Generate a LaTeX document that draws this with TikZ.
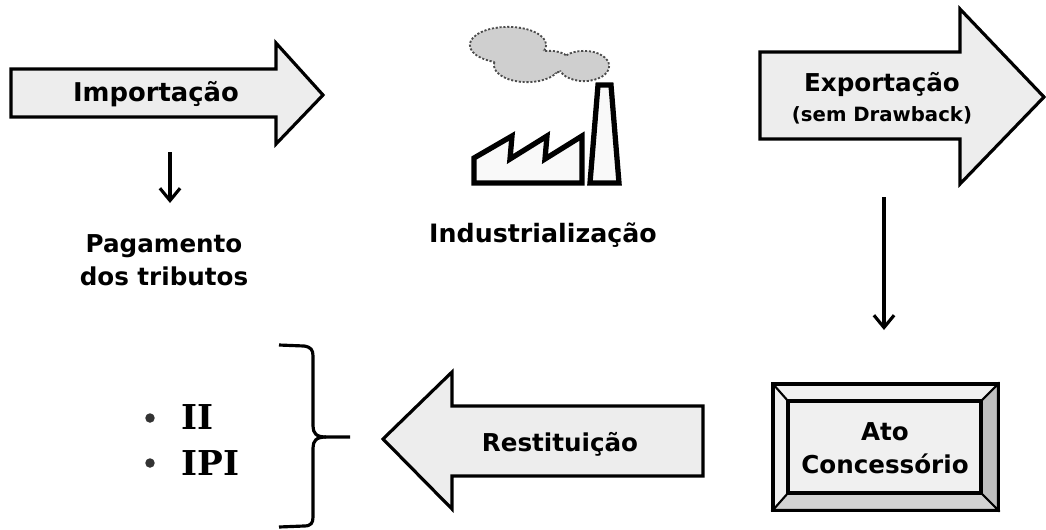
\documentclass[tikz,border=0pt]{standalone}
\usepackage{fontspec}
\setmainfont{DejaVu Sans}
\newfontfamily\slabfont{DejaVu Serif}
\usetikzlibrary{arrows.meta,positioning}

\tikzset{
  bigarrow/.style={fill=gray!14,draw=black,line width=1.8pt,miter limit=6},
  thinarrow/.style={-{Straight Barb[length=7pt,width=11.5pt]},line width=1.8pt},
  biglabel/.style={font=\fontsize{14}{19}\selectfont\bfseries,align=center,inner sep=0pt},
  smalllabel/.style={font=\fontsize{11.2}{14}\selectfont\bfseries,align=center,inner sep=0pt},
  slablabel/.style={font=\fontsize{19.5}{25}\slabfont\bfseries,inner sep=0pt},
  bulletdot/.style={circle,fill=black!80,inner sep=0pt,minimum size=5.4pt},
  factoryline/.style={draw=black,line width=3pt,fill=gray!5,miter limit=6},
  cloudpart/.style={fill=gray!38},
}

\begin{document}
\begin{tikzpicture}[x=0.02cm,y=-0.02cm]
  \useasboundingbox (0,0) rectangle (1046,529);

  %draw import arrow
  \filldraw[bigarrow] (11,69) -- (276,69) -- (276,43) -- (323,95) -- (276,144) -- (276,117) -- (11,117) -- cycle;
  \node[biglabel,font=\fontsize{14.7}{19}\selectfont\bfseries] (importacao) at (156,94) {Importação};

  \coordinate (pagstart) at (170,152);
  \coordinate (pagend) at (170,203);
  \draw[thinarrow] (pagstart) -- (pagend);
  \node[biglabel] (pagamento) at (164,260) {Pagamento\\dos tributos};

  %draw cloud, outlines first and then the fill over them
  \filldraw[cloudpart,draw=black!70,line width=1.2pt,densely dotted] (508,45) ellipse (38 and 18);
  \filldraw[cloudpart,draw=black!70,line width=1.2pt,densely dotted] (527,65) ellipse (33 and 17);
  \filldraw[cloudpart,draw=black!70,line width=1.2pt,densely dotted] (550,62) ellipse (20 and 11);
  \filldraw[cloudpart,draw=black!70,line width=1.2pt,densely dotted] (584,66) ellipse (25 and 15);
  \fill[cloudpart] (508,45) ellipse (37 and 17);
  \fill[cloudpart] (527,65) ellipse (32 and 16);
  \fill[cloudpart] (550,62) ellipse (19 and 10);
  \fill[cloudpart] (584,66) ellipse (24 and 14);

  %draw factory and chimney
  \filldraw[factoryline] (474,158) -- (512,136) -- (510,159) -- (547,136) -- (545,159) -- (582,136) -- (582,183) -- (474,183) -- cycle;
  \filldraw[factoryline] (598,85) -- (611,85) -- (619,183) -- (590,183) -- cycle;
  \node[biglabel,font=\fontsize{14.4}{19}\selectfont\bfseries] (industria) at (543,235) {Industrialização};

  %draw export arrow
  \filldraw[bigarrow] (760,52) -- (960,52) -- (960,9) -- (1044,97) -- (960,184) -- (960,139) -- (760,139) -- cycle;
  \node[biglabel] (exportacao) at (882,84) {Exportação};
  \node[smalllabel] (drawback) at (882,115) {(sem Drawback)};

  \coordinate (expstart) at (884,197);
  \coordinate (expend) at (884,330);
  \draw[thinarrow] (expstart) -- (expend);

  %draw beveled box
  \filldraw[fill=gray!12,draw=black,line width=1.8pt] (773,384) rectangle (998,510);
  \filldraw[fill=gray!50,draw=black,line width=1.2pt] (998,384) -- (981,401) -- (981,493) -- (998,510) -- cycle;
  \filldraw[fill=gray!35,draw=black,line width=1.2pt] (773,510) -- (788,493) -- (981,493) -- (998,510) -- cycle;
  \draw[line width=1.2pt] (773,384) -- (788,401);
  \node[draw=black,line width=1.8pt,fill=gray!12,minimum width=193*0.02cm,minimum height=92*0.02cm,inner sep=0pt] (atobox) at (884.5,447) {};
  \node[biglabel] (ato) at (885,448) {Ato\\Concessório};

  %draw refund arrow
  \filldraw[bigarrow] (703,406) -- (452,406) -- (452,372) -- (383,439) -- (452,509) -- (452,476) -- (703,476) -- cycle;
  \node[biglabel] (restituicao) at (560,444) {Restituição};

  %draw brace
  \coordinate (bracetop) at (279,345);
  \coordinate (bracelow) at (279,527);
  \coordinate (bracetip) at (350,437);
  \draw[line width=1.8pt] (bracetop) -- (304,346) .. controls (311,347) and (313,350) .. (313,356)
    -- (313,426) .. controls (313,433) and (316,437) .. (326,437) -- (bracetip);
  \draw[line width=1.8pt] (bracelow) -- (304,526) .. controls (311,526) and (313,523) .. (313,517)
    -- (313,448) .. controls (313,441) and (316,437) .. (326,437);

  \node[bulletdot] (dotii) at (150,418) {};
  \node[bulletdot] (dotipi) at (150,463) {};
  \node[slablabel,anchor=west] (ii) at (181,417) {II};
  \node[slablabel,anchor=west] (ipi) at (181,463) {IPI};

\end{tikzpicture}
\end{document}
